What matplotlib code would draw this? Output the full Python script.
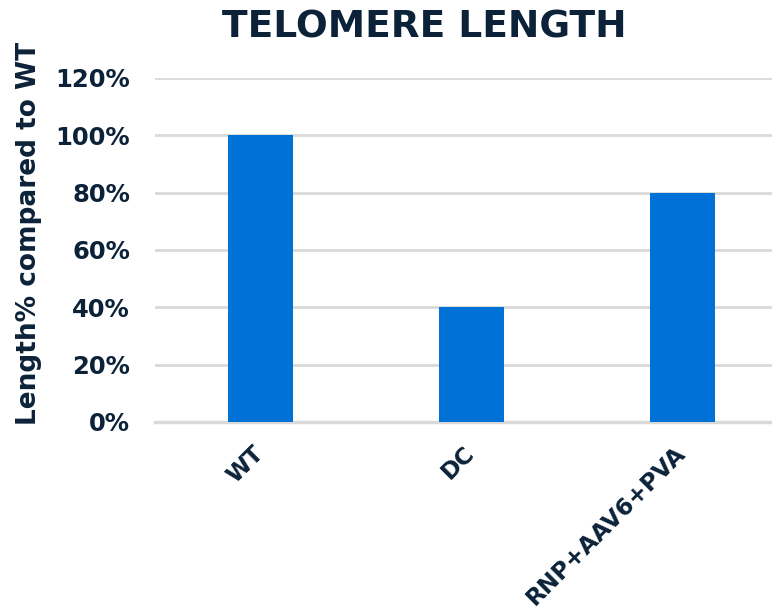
import matplotlib.pyplot as plt
from matplotlib.ticker import PercentFormatter

groups = ["WT", "DC", "RNP+AAV6+PVA"]
length_pct = [1.00, 0.40, 0.80]

navy = "#0b2239"
blue = "#0071d6"

plt.rcParams["font.family"] = "DejaVu Sans"
plt.rcParams["font.weight"] = "bold"

fig = plt.figure(figsize=(7.72, 6.13), dpi=100)
ax = fig.add_axes([0.2008, 0.3116, 0.82, 0.5612])

ax.bar(range(len(groups)), length_pct, width=0.31, color=blue, zorder=3)

ax.set_xlim(-0.5, 2.5)
ax.set_ylim(0, 1.2)
ax.set_yticks([0, 0.2, 0.4, 0.6, 0.8, 1.0, 1.2])
ax.yaxis.set_major_formatter(PercentFormatter(1.0, decimals=0))
ax.grid(axis="y", color="#d9d9d9", linewidth=2, zorder=0)
ax.axhline(0, color="#d9d9d9", linewidth=2.5, zorder=1, clip_on=False)
ax.set_axisbelow(True)

for side in ["top", "right", "left", "bottom"]:
    ax.spines[side].set_visible(False)
ax.tick_params(length=0, labelcolor=navy)
ax.tick_params(axis="y", labelsize=17.5, pad=18)

# rotated labels: right end of each label sits under its bar
ax.set_xticks(range(len(groups)))
ax.set_xticklabels(groups, rotation=45, ha="right", va="center",
                   rotation_mode="anchor", fontsize=16.8, fontweight="bold")
ax.tick_params(axis="x", pad=20)

fig.text(0.038, 0.62, "Length% compared to WT", rotation=90, ha="center",
         va="center", fontsize=19, fontweight="bold", color=navy)
fig.text(0.5495, 0.9396, "TELOMERE LENGTH", ha="center", va="baseline",
         fontsize=27, fontweight="bold", color=navy)

fig.savefig("out.png", dpi=100)
